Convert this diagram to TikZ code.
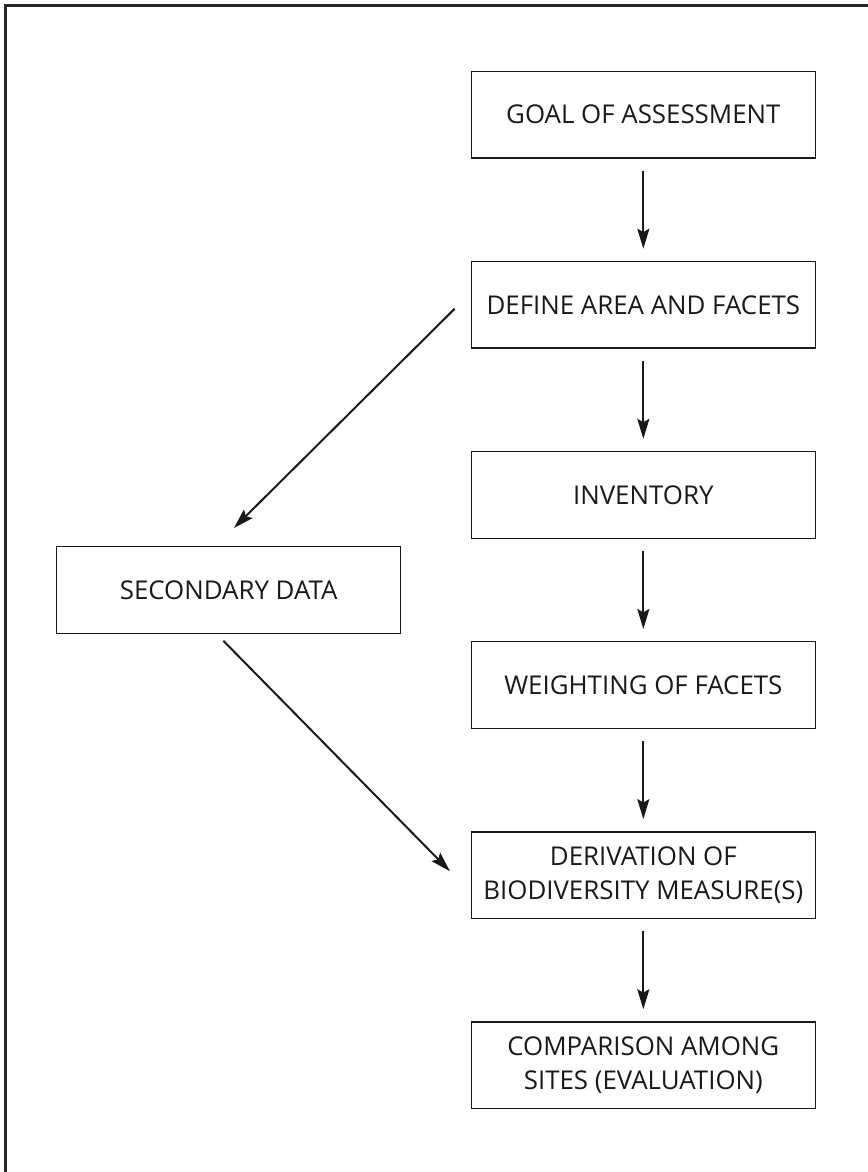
\documentclass[tikz,border=0pt]{standalone}
\usepackage{fontspec}
\setmainfont{Open Sans}
\usepackage{tikz}
\usetikzlibrary{arrows.meta,positioning,calc}

\begin{document}
\begin{tikzpicture}[
  stepbox/.style={draw=black!90, line width=1.1pt, minimum width=258pt,
                  minimum height=65pt, align=center, inner sep=2pt,
                  font=\fontsize{19.4}{25.5}\selectfont, text=black!90},
  arr/.style={-{Stealth[length=15pt, width=9pt, inset=2.5pt]}, line width=1.5pt, black!90},
  node distance=76.5pt
]
  \useasboundingbox (0,0) rectangle (651pt,-879pt);
  % outer frame (only left and top visible)
  \draw[line width=2.2pt, black!85] (4.2pt,-879pt) |- (651pt,-4.2pt);

  \node[stepbox] (goal) at (482.5pt,-86pt) {GOAL OF ASSESSMENT};
  \node[stepbox, below=of goal] (define) {DEFINE AREA AND FACETS};
  \node[stepbox, below=of define] (inventory) {INVENTORY};
  \node[stepbox, below=of inventory] (weighting) {WEIGHTING OF FACETS};
  \node[stepbox, below=of weighting] (derivation) {DERIVATION OF\\BIODIVERSITY MEASURE(S)};
  \node[stepbox, below=of derivation] (comparison) {COMPARISON AMONG\\SITES (EVALUATION)};
  \node[stepbox] (secondary) at ($(inventory)!.5!(weighting)+(-311pt,0)$) {SECONDARY DATA};

  % main column
  \draw[arr, shorten <=9pt, shorten >=9pt] (goal) -- (define);
  \draw[arr, shorten <=9pt, shorten >=9pt] (define) -- (inventory);
  \draw[arr, shorten <=9pt, shorten >=9pt] (inventory) -- (weighting);
  \draw[arr, shorten <=9pt, shorten >=9pt] (weighting) -- (derivation);
  \draw[arr, shorten <=9pt, shorten >=9pt] (derivation) -- (comparison);

  % side branch
  \draw[arr] ([xshift=-12pt,yshift=-3pt]define.west) -- ([xshift=4pt,yshift=13.5pt]secondary.north);
  \draw[arr] ([xshift=-4pt,yshift=-5pt]secondary.south) -- ([xshift=-15.5pt,yshift=3pt]derivation.west);
\end{tikzpicture}
\end{document}
